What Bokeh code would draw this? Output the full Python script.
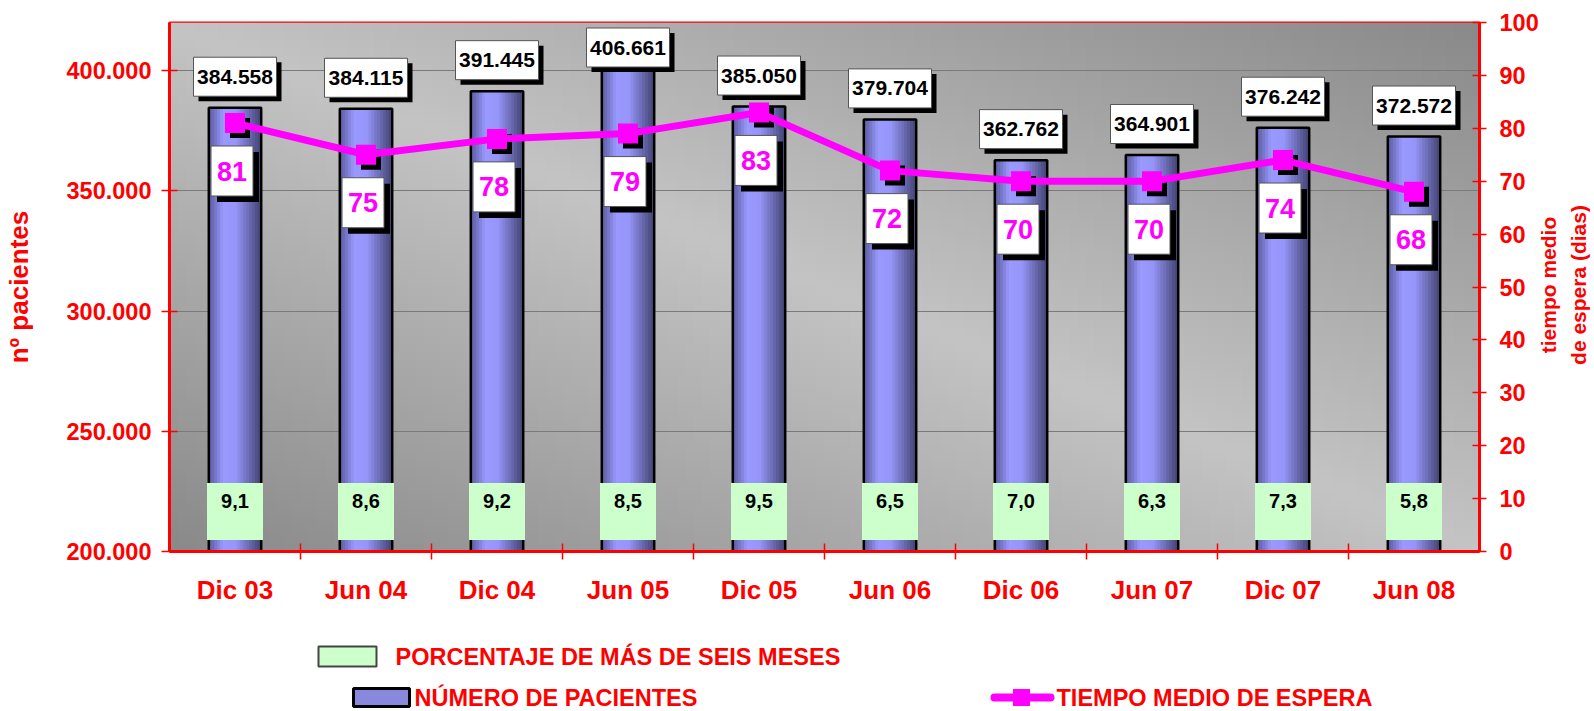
import math
import numpy as np
from bokeh.plotting import figure
from bokeh.models import (ColumnDataSource, FactorRange, Range1d, LinearAxis,
                          CategoricalAxis, FixedTicker, Label)
from bokeh.layouts import column
from bokeh.transform import dodge
from bokeh.core.properties import value
from bokeh.embed import file_html
from bokeh.resources import INLINE

# ---------------- data ----------------
periodos = ["Dic 03", "Jun 04", "Dic 04", "Jun 05", "Dic 05",
            "Jun 06", "Dic 06", "Jun 07", "Dic 07", "Jun 08"]
pacientes = [384558, 384115, 391445, 406661, 385050,
             379704, 362762, 364901, 376242, 372572]
tiempo_medio = [81, 75, 78, 79, 83, 72, 70, 70, 74, 68]
porcentaje_mas_6m = [9.1, 8.6, 9.2, 8.5, 9.5, 6.5, 7.0, 6.3, 7.3, 5.8]
ticks_pacientes = [200000, 250000, 300000, 350000, 400000]
ticks_dias = [0, 10, 20, 30, 40, 50, 60, 70, 80, 90, 100]
leyenda = ["PORCENTAJE DE MÁS DE SEIS MESES", "NÚMERO DE PACIENTES",
           "TIEMPO MEDIO DE ESPERA"]
titulo_izq = "nº pacientes"
titulo_der = "tiempo medio\nde espera (dias)"

# ---------------- style ----------------
FONT = "Liberation Sans"
RED = "#ff0000"
MAG = "#ff00ff"
Y0, Y1 = 200000, 420000
D0, D1 = 0, 100
FW, FH = 1310, 529
BL, BT = 169, 22          # frame offset on the page
n = len(periodos)
XPX = n / FW              # category units per pixel
LPX = (Y1 - Y0) / FH      # left-axis units per pixel
RPX = (D1 - D0) / FH      # right-axis units per pixel


def miles(v):
    return f"{v:,}".replace(",", ".")


lab_y = [min(v + 31 * LPX, Y1 - 25 * LPX) for v in pacientes]
src = ColumnDataSource(dict(
    cat=periodos, n=pacientes, t=tiempo_medio, pct=porcentaje_mas_6m,
    base=[Y0] * n,
    n_txt=[miles(v) for v in pacientes],
    t_txt=[str(v) for v in tiempo_medio],
    pct_txt=[f"{v:.1f}".replace(".", ",") for v in porcentaje_mas_6m],
    n_lab=lab_y,
    n_lab_sh=[y - 5 * LPX for y in lab_y],
    t_sh=[t - 5 * RPX for t in tiempo_medio],
    t_lab=[t - 48 * RPX for t in tiempo_medio],
    t_lab_sh=[t - 54 * RPX for t in tiempo_medio],
    pct_box=[Y0 + 40 * LPX] * n,
    pct_lab=[Y0 + 51 * LPX] * n,
))

p = figure(x_range=FactorRange(*periodos), y_range=Range1d(Y0, Y1),
           frame_width=FW, frame_height=FH,
           min_border_left=BL, min_border_right=112,
           min_border_top=BT, min_border_bottom=70,
           x_axis_location=None, toolbar_location=None, output_backend="svg",
           background_fill_color="#b4b4b4", border_fill_color="white",
           outline_line_color=RED, outline_line_width=2)
p.extra_y_ranges = {"dias": Range1d(D0, D1)}
# boundary factors: range trimmed by half a factor on each side so their
# centres fall on the category boundaries of the main range
bordes = [f"b{i}" for i in range(n + 1)]
p.extra_x_ranges = {"bordes": FactorRange(factors=bordes, range_padding=-0.5,
                                          range_padding_units="absolute")}

# background diagonal gradient
H, W = 64, 160
u = np.linspace(0, 1, W)[None, :]
vt = np.linspace(1, 0, H)[:, None]
g = (196 - 58 * np.abs(u - vt)).astype(np.uint8)
img = np.empty((H, W), dtype=np.uint32)
view = img.view(dtype=np.uint8).reshape((H, W, 4))
view[..., 0] = g
view[..., 1] = g
view[..., 2] = g
view[..., 3] = 255
p.image_rgba(image=[img], x=0, y=Y0, dw=n, dh=Y1 - Y0, level="image")

# grid
p.ygrid.ticker = FixedTicker(ticks=ticks_pacientes)
p.ygrid.grid_line_color = "#7a7a7a"
p.ygrid.grid_line_width = 1
p.xgrid.visible = False

# left axis
ya = p.yaxis[0]
ya.ticker = FixedTicker(ticks=ticks_pacientes)
ya.major_label_overrides = {t: miles(t) for t in ticks_pacientes}
ya.axis_label = titulo_izq
ya.axis_line_color = RED
ya.axis_line_width = 3
ya.major_tick_line_color = RED
ya.major_tick_line_width = 1.5
ya.major_tick_in = 8
ya.major_tick_out = 8
ya.minor_tick_line_color = None
ya.major_label_standoff = 10
ya.major_label_text_font = FONT
ya.major_label_text_font_style = "bold"
ya.major_label_text_font_size = "23.5px"
ya.major_label_text_color = RED
ya.axis_label_text_font = FONT
ya.axis_label_text_font_style = "bold"
ya.axis_label_text_font_size = "26px"
ya.axis_label_text_color = RED
ya.axis_label_standoff = 30

# right axis (ticks and labels) + its rotated title in the side panel
ax_r = LinearAxis(y_range_name="dias", ticker=FixedTicker(ticks=ticks_dias),
                  axis_line_color=RED, axis_line_width=3,
                  major_tick_line_color=RED, major_tick_line_width=1.5,
                  major_tick_in=7, major_tick_out=7, minor_tick_line_color=None,
                  major_label_standoff=13, major_label_text_font=FONT,
                  major_label_text_font_style="bold",
                  major_label_text_font_size="23.5px",
                  major_label_text_color=RED)
p.add_layout(ax_r, "right")
p.add_layout(Label(x=22, y=FH / 2 + 2, x_units="screen", y_units="screen",
                   text=titulo_der, angle=math.pi / 2,
                   text_align="center", text_baseline="middle",
                   text_font=FONT, text_font_style="bold",
                   text_font_size="21px", text_color=RED,
                   text_line_height=1.3), "right")

# bottom: boundary ticks then category labels
ax_b = CategoricalAxis(x_range_name="bordes",
                       major_label_overrides={b: "" for b in bordes},
                       major_label_text_font_size="1px",
                       major_label_text_color=None,
                       major_label_standoff=0,
                       axis_line_color=RED, axis_line_width=3,
                       major_tick_line_color=RED, major_tick_line_width=1.5,
                       major_tick_in=8, major_tick_out=8,
                       minor_tick_line_color=None)
p.add_layout(ax_b, "below")
ax_c = CategoricalAxis(axis_line_color=None, major_tick_line_color=None,
                       minor_tick_line_color=None, major_label_standoff=9,
                       major_label_text_font=FONT,
                       major_label_text_font_style="bold",
                       major_label_text_font_size="26px",
                       major_label_text_color=RED)
p.add_layout(ax_c, "below")

# bars with cylinder-like shading
stops = [(0.0, (0x58, 0x58, 0x98)), (0.28, (0x99, 0x99, 0xff)),
         (0.52, (0x96, 0x96, 0xfa)), (1.0, (0x44, 0x44, 0x74))]


def shade(tc):
    for (a, ca), (b, cb) in zip(stops[:-1], stops[1:]):
        if a <= tc <= b:
            f = (tc - a) / (b - a)
            c = [round(ca[i] + (cb[i] - ca[i]) * f) for i in range(3)]
            return "#%02x%02x%02x" % tuple(c)
    return "#9999ff"


BW = 0.40
NS = 18
for k in range(NS):
    tc = (k + 0.5) / NS
    off = -BW / 2 + tc * BW
    p.vbar(x=dodge("cat", off, range=p.x_range), top="n", bottom="base",
           width=BW / NS * 1.3, source=src, fill_color=shade(tc),
           line_color=None)
p.vbar(x="cat", top="n", bottom="base", width=BW, source=src,
       fill_color=None, line_color="black", line_width=2.5)

# percentage boxes
p.rect(x="cat", y="pct_box", width=56, height=57, width_units="screen",
       height_units="screen", source=src, fill_color="#ccffcc",
       line_color=None)
p.text(x="cat", y="pct_lab", text="pct_txt", source=src, text_align="center",
       text_baseline="middle", text_font=value(FONT), text_font_style="bold",
       text_font_size="20px", text_color="black")

# waiting time line
p.scatter(x=dodge("cat", 5 * XPX, range=p.x_range), y="t_sh",
          y_range_name="dias", source=src, marker="square", size=20,
          fill_color="black", line_color=None)
p.line(x="cat", y="t", y_range_name="dias", source=src, line_color=MAG,
       line_width=7)
p.scatter(x="cat", y="t", y_range_name="dias", source=src, marker="square",
          size=20, fill_color=MAG, line_color=None)

# waiting time labels
p.rect(x=dodge("cat", 3 * XPX, range=p.x_range), y="t_lab_sh",
       y_range_name="dias", width=42, height=50, width_units="screen",
       height_units="screen", source=src, fill_color="black", line_color=None)
p.rect(x=dodge("cat", -3 * XPX, range=p.x_range), y="t_lab",
       y_range_name="dias", width=42, height=50, width_units="screen",
       height_units="screen", source=src, fill_color="white",
       line_color="#555555", line_width=1)
p.text(x=dodge("cat", -3 * XPX, range=p.x_range), y="t_lab",
       y_range_name="dias", text="t_txt", source=src, text_align="center",
       text_baseline="middle", text_font=value(FONT), text_font_style="bold",
       text_font_size="27px", text_color=MAG)

# patient count labels
p.rect(x=dodge("cat", 5 * XPX, range=p.x_range), y="n_lab_sh",
       width=83, height=39, width_units="screen", height_units="screen",
       source=src, fill_color="black", line_color=None)
p.rect(x="cat", y="n_lab", width=83, height=39, width_units="screen",
       height_units="screen", source=src, fill_color="white",
       line_color="#555555", line_width=1)
p.text(x="cat", y="n_lab", text="n_txt", source=src, text_align="center",
       text_baseline="middle", text_font=value(FONT), text_font_style="bold",
       text_font_size="21px", text_color="black")

# ---------------- legend (strip below, frame aligned with the chart) ------
LH = 88
TOP = BT + FH + 70        # page y where the legend strip starts
lg = figure(frame_width=FW, frame_height=LH, min_border_left=BL,
            min_border_right=112, min_border_top=0, min_border_bottom=0,
            x_range=Range1d(BL, BL + FW), y_range=Range1d(TOP + LH, TOP),
            toolbar_location=None, output_backend="svg",
            outline_line_color=None, x_axis_location=None,
            y_axis_location=None, border_fill_color="white",
            background_fill_color="white")
lg.xgrid.visible = False
lg.ygrid.visible = False
ROW1, ROW2 = 656, 697
lg.rect(x=[347], y=[ROW1], width=58, height=20, fill_color="#ccffcc",
        line_color="#444444", line_width=2)
lg.text(x=[395], y=[ROW1], text=[leyenda[0]], text_align="left",
        text_baseline="middle", text_font=value(FONT), text_font_style="bold",
        text_font_size="23.5px", text_color=RED)
lg.rect(x=[381], y=[ROW2], width=56, height=18, fill_color="#8888dd",
        line_color="black", line_width=3)
lg.text(x=[414], y=[ROW2], text=[leyenda[1]], text_align="left",
        text_baseline="middle", text_font=value(FONT), text_font_style="bold",
        text_font_size="23.5px", text_color=RED)
lg.line(x=[994, 1050], y=[ROW2, ROW2], line_color=MAG, line_width=8,
        line_cap="round")
lg.scatter(x=[1021], y=[ROW2], marker="square", size=17, fill_color=MAG,
           line_color=None)
lg.text(x=[1056], y=[ROW2], text=[leyenda[2]], text_align="left",
        text_baseline="middle", text_font=value(FONT), text_font_style="bold",
        text_font_size="23.5px", text_color=RED)

layout = column(p, lg, spacing=0)
open("out.html", "w").write(file_html(layout, INLINE))
